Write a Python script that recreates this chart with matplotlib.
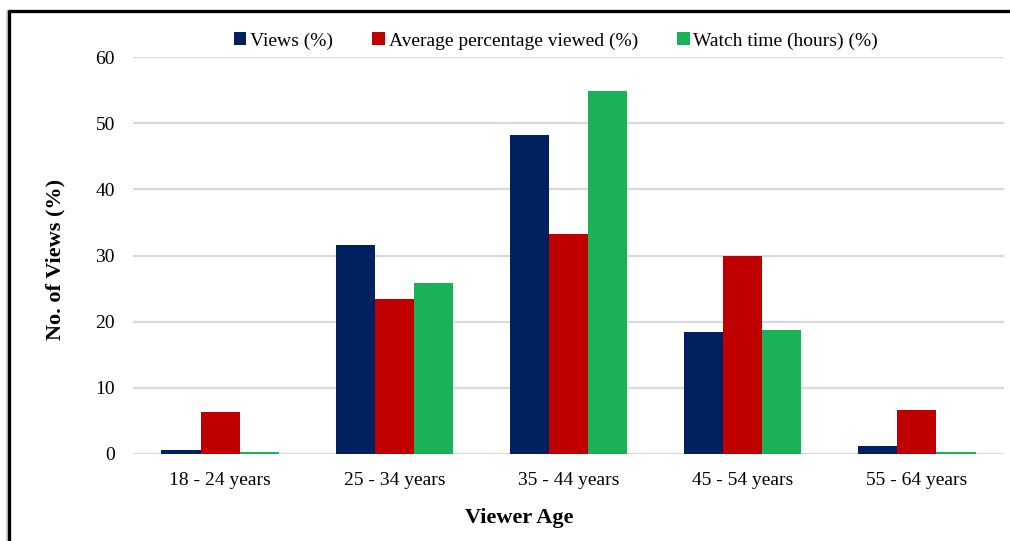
import matplotlib
matplotlib.use("Agg")
import matplotlib.pyplot as plt
from matplotlib.lines import Line2D
import numpy as np

categories = ["18 - 24 years", "25 - 34 years", "35 - 44 years", "45 - 54 years", "55 - 64 years"]
views = [0.55, 31.6, 48.2, 18.5, 1.15]
avg_viewed = [6.4, 23.4, 33.3, 30.0, 6.6]
watch_time = [0.3, 25.8, 54.9, 18.8, 0.25]
series_names = ["Views (%)", "Average percentage viewed (%)", "Watch time (hours) (%)"]
y_ticks = [0, 10, 20, 30, 40, 50, 60]

colors = ["#002060", "#C00000", "#1BB156"]

plt.rcParams["font.family"] = ["Liberation Serif", "DejaVu Serif"]

fig = plt.figure(figsize=(10.1, 5.41), dpi=100)
ax = fig.add_axes([133 / 1010, 1 - 454 / 541, (1004 - 133) / 1010, (454 - 57) / 541])

x = np.arange(len(categories))
w = 0.225
for i, (vals, name) in enumerate(zip([views, avg_viewed, watch_time], series_names)):
    ax.bar(x + (i - 1) * w, vals, width=w, color=colors[i], label=name, zorder=3)

ax.set_xlim(-0.5, len(categories) - 0.5)
ax.set_ylim(0, 60)
ax.set_yticks(y_ticks)
ax.set_xticks(x)
ax.set_xticklabels(categories)
ax.tick_params(axis="both", length=0, labelsize=14, colors="#000000")
ax.tick_params(axis="x", pad=13)
ax.tick_params(axis="y", pad=13)
ax.grid(axis="y", color="#d9d9d9", linewidth=1.6, zorder=0)
for s in ax.spines.values():
    s.set_visible(False)

ax.set_xlabel("Viewer Age", fontsize=16, fontweight="bold")
ax.xaxis.set_label_coords(0.444, -0.137)
ax.set_ylabel("No. of Views (%)", fontsize=16, fontweight="bold")
ax.yaxis.set_label_coords(-0.077, 0.489)

handles, labels = ax.get_legend_handles_labels()
fig.legend(handles, labels, loc="center", bbox_to_anchor=(556 / 1010, 1 - 41 / 541),
           ncol=3, frameon=False, fontsize=14, handlelength=0.65, handleheight=0.65,
           handletextpad=0.2, columnspacing=2.0)

# page frame around the chart
fig.add_artist(Line2D([6.5 / 1010, 6.5 / 1010], [0, 1 - 11 / 541], transform=fig.transFigure,
                      color="#cccccc", linewidth=1.2))
fig.add_artist(Line2D([9 / 1010, 9 / 1010], [0, 1 - 10 / 541], transform=fig.transFigure,
                      color="black", linewidth=2.4, solid_capstyle="butt"))
fig.add_artist(Line2D([8 / 1010, 1], [1 - 11 / 541, 1 - 11 / 541], transform=fig.transFigure,
                      color="black", linewidth=2.4, solid_capstyle="butt"))

fig.savefig("out.png", dpi=100, facecolor="white")
